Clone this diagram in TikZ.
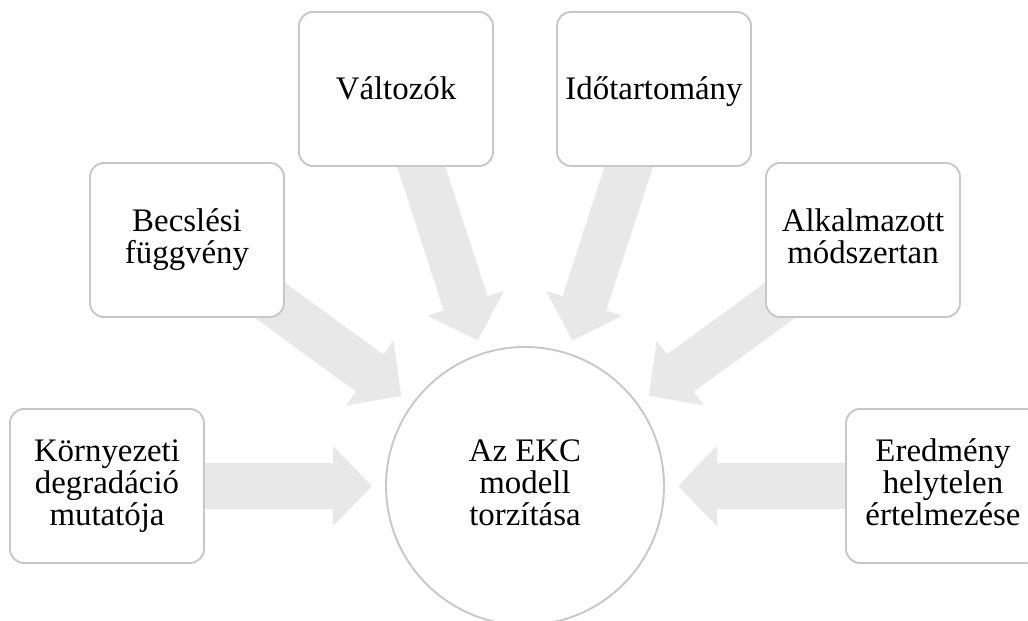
\documentclass[tikz,border=0pt]{standalone}
\usepackage{fontspec}
\setmainfont{Liberation Serif}
\usetikzlibrary{calc,arrows.meta,backgrounds}
\definecolor{boxline}{HTML}{C8C8C8}
\definecolor{arrowgray}{HTML}{E8E8E8}
\tikzset{%
    every node/.style={fill=white, draw=boxline, line width=1.1pt,
    	align=center, font=\fontsize{18.7}{18.2}\selectfont,
    	execute at begin node=\vphantom{Ő}, execute at end node=\vphantom{gy}},
    factor/.style={rounded corners=0.28cm, minimum width=3.88cm,
    	minimum height=3.08cm, inner sep=0pt},
    core/.style={circle, minimum size=5.56cm, inner sep=0pt},
    bigarrow/.style={draw=arrowgray, line width=0.92cm,
    	-{Triangle[length=0.78cm, width=1.56cm]}}
}
\begin{document}
\begin{tikzpicture}
  \useasboundingbox (0cm, 0cm) rectangle (20.56cm, 12.42cm);

  \node (c) [core] at (10.5cm, 2.7cm) {Az EKC\\modell\\torzítása};

  \node (p1) [factor] at (2.14cm, 2.7cm) {Környezeti\\degradáció\\mutatója};
  \node (p2) [factor] at (3.74cm, 7.62cm) {Becslési\\függvény};
  \node (p3) [factor] at (7.92cm, 10.64cm) {Változók};
  \node (p4) [factor] at (13.08cm, 10.64cm) {Időtartomány};
  \node (p5) [factor] at (17.26cm, 7.62cm) {Alkalmazott\\módszertan};
  \node (p6) [factor] at (18.86cm, 2.7cm) {Eredmény\\helytelen\\értelmezése};

  \begin{scope}[on background layer]
    \foreach \p in {p1, p2, p3, p4, p5, p6}
      \draw[bigarrow] ($(c)!7.2cm!(\p)$) -- ($(c)!3.06cm!(\p)$);
  \end{scope}

\end{tikzpicture}
\end{document}
